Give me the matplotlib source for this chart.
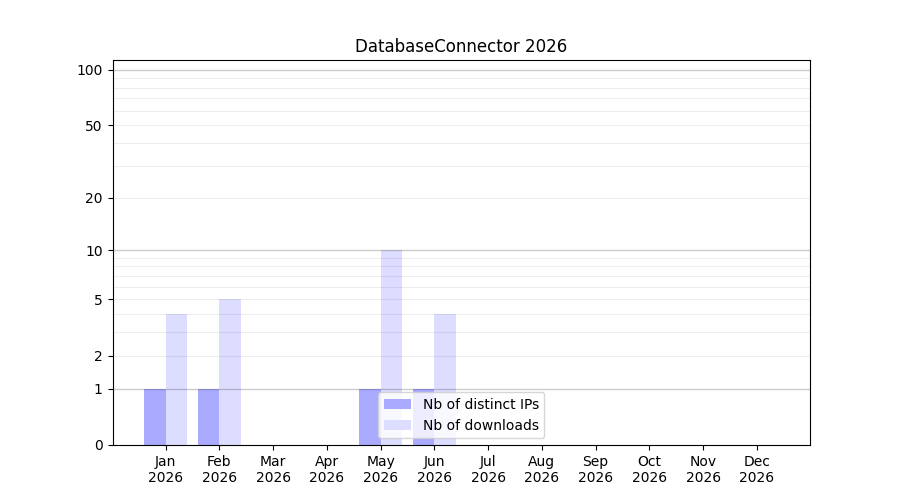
import numpy as np
import matplotlib
matplotlib.use("Agg")
import matplotlib.pyplot as plt
from matplotlib.ticker import FixedLocator, FixedFormatter

title = "DatabaseConnector 2026"
months = ["Jan\n2026", "Feb\n2026", "Mar\n2026", "Apr\n2026", "May\n2026", "Jun\n2026",
          "Jul\n2026", "Aug\n2026", "Sep\n2026", "Oct\n2026", "Nov\n2026", "Dec\n2026"]
distinct_ips = [1, 1, 0, 0, 1, 1, 0, 0, 0, 0, 0, 0]
downloads = [4, 5, 0, 0, 10, 4, 0, 0, 0, 0, 0, 0]
major_ticks = [0, 1, 2, 5, 10, 20, 50, 100]

fig, ax = plt.subplots(figsize=(9, 5), dpi=100)

def fwd(y):
    return np.log10(1 + np.maximum(y, 0))

def inv(y):
    return 10 ** y - 1

ax.set_yscale("function", functions=(fwd, inv))

x = np.arange(len(months))
ax.bar(x, distinct_ips, width=-0.4, align="edge", color="#aaaaff", label="Nb of distinct IPs", zorder=1)
ax.bar(x, downloads, width=0.4, align="edge", color="#ddddff", label="Nb of downloads", zorder=1)

ax.set_xticks(x)
ax.set_xticklabels(months)
ax.set_xlim(-0.99, 11.99)
ax.set_ylim(0, 113)

ax.yaxis.set_major_locator(FixedLocator(major_ticks))
ax.yaxis.set_major_formatter(FixedFormatter([str(t) for t in major_ticks]))
minor = [v for v in list(range(2, 10)) + list(range(20, 100, 10))]
ax.yaxis.set_minor_locator(FixedLocator(minor))
ax.tick_params(axis="y", which="minor", length=0)

for v in [1, 10, 100]:
    ax.axhline(v, color="#000000", alpha=0.2, linewidth=1, zorder=2)
for v in minor:
    ax.axhline(v, color="#000000", alpha=0.07, linewidth=0.8, zorder=2)

ax.set_title(title)
ax.legend(loc="lower center")

fig.savefig("out.png", dpi=100)
